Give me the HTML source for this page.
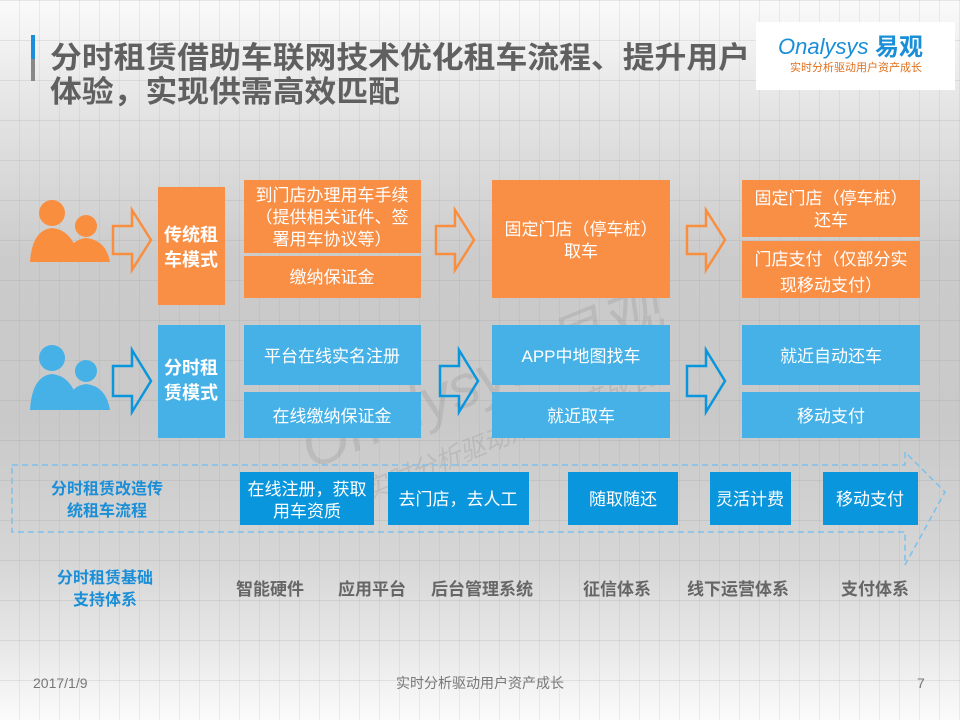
<!DOCTYPE html>
<html><head><meta charset="utf-8"><style>
body{margin:0;width:960px;height:720px;overflow:hidden;font-family:"Liberation Sans","Noto Sans CJK SC",sans-serif;}
.bg{position:absolute;left:0;top:0;width:960px;height:720px;background:linear-gradient(#fafafa 0px,#e4e4e4 110px,#cbcbcb 260px,#c9c9c9 420px,#d6d6d6 560px,#e6e6e6 640px,#fbfbfb 720px);}
.grid{position:absolute;left:0;top:0;width:960px;height:720px;background:repeating-linear-gradient(90deg,rgba(150,150,150,0) 0 19px,rgba(150,150,150,.15) 19px 20px),repeating-linear-gradient(0deg,rgba(150,150,150,0) 0 39px,rgba(150,150,150,.2) 39px 40px);}
svg{position:absolute;left:0;top:0}
text{font-family:"Liberation Sans","Noto Sans CJK SC",sans-serif}
</style></head><body>
<div class="bg"></div><div class="grid"></div>
<svg width="960" height="720" viewBox="0 0 960 720">
<rect x="31" y="35" width="4" height="24" fill="#1a8fd8"/><rect x="31" y="59" width="4" height="22" fill="#888"/>
<text x="50" y="68" font-size="30" font-weight="bold" fill="#606060" textLength="700" lengthAdjust="spacingAndGlyphs">分时租赁借助车联网技术优化租车流程、提升用户</text>
<text x="50" y="102" font-size="30" font-weight="bold" fill="#606060" textLength="350" lengthAdjust="spacingAndGlyphs">体验，实现供需高效匹配</text>
<rect x="756" y="22" width="199" height="68" fill="#fff"/>
<text x="778" y="54" font-size="22" fill="#1a8fd8" font-style="italic">Onalysys</text>
<text x="875" y="55" font-size="24" font-weight="bold" fill="#1a8fd8">易观</text>
<text x="790" y="71" font-size="11" fill="#e0701c">实时分析驱动用户资产成长</text>
<g opacity="0.1" fill="#333" transform="rotate(-22 480 380)">
<text x="290" y="400" font-size="60" font-style="italic">Onalysys 易观</text>
<text x="330" y="450" font-size="26" font-style="italic">实时分析驱动用户资产成长</text></g>
<g fill="#f98e3f"><circle cx="52" cy="213" r="13"/><path d="M30 262 Q32 230 52 228 Q74 230 80 262Z"/>
<circle cx="86" cy="226" r="11"/><path d="M66 262 Q68 240 86 238 Q106 240 110 262Z"/></g>
<g fill="#45b1e6"><circle cx="52" cy="358" r="13"/><path d="M30 410 Q32 376 52 374 Q74 376 80 410Z"/>
<circle cx="86" cy="371" r="11"/><path d="M66 410 Q68 386 86 384 Q106 386 110 410Z"/></g>
<g fill="none" stroke-width="2.5">
<path d="M113 226 H132 V210 L151 240 L132 270 V254 H113Z" stroke="#f98e3f"/>
<path d="M436 226 H455 V210 L474 240 L455 270 V254 H436Z" stroke="#f98e3f"/>
<path d="M687 226 H706 V210 L725 240 L706 270 V254 H687Z" stroke="#f98e3f"/>
<path d="M113 366 H132 V350 L151 381 L132 412 V396 H113Z" stroke="#0a96dc"/>
<path d="M440 366 H459 V350 L478 381 L459 412 V396 H440Z" stroke="#0a96dc"/>
<path d="M687 366 H706 V350 L725 381 L706 412 V396 H687Z" stroke="#0a96dc"/>
</g>
<g fill="#f98e45">
<rect x="158" y="187" width="67" height="118"/>
<rect x="244" y="180" width="177" height="73"/><rect x="244" y="256" width="177" height="42"/>
<rect x="492" y="180" width="178" height="118"/>
<rect x="742" y="180" width="178" height="57"/><rect x="742" y="241" width="178" height="57"/></g>
<g fill="#45b1e6">
<rect x="158" y="325" width="67" height="113"/>
<rect x="244" y="325" width="177" height="60"/><rect x="244" y="392" width="177" height="46"/>
<rect x="492" y="325" width="178" height="60"/><rect x="492" y="392" width="178" height="46"/>
<rect x="742" y="325" width="178" height="60"/><rect x="742" y="392" width="178" height="46"/></g>
<g fill="#fff" font-size="17" text-anchor="middle">
<text x="191" y="241" font-weight="bold" font-size="18">传统租</text><text x="191" y="266" font-weight="bold" font-size="18">车模式</text>
<text x="191" y="374" font-weight="bold" font-size="18">分时租</text><text x="191" y="399" font-weight="bold" font-size="18">赁模式</text>
<text x="332" y="201">到门店办理用车手续</text><text x="332" y="223">（提供相关证件、签</text><text x="332" y="245">署用车协议等）</text>
<text x="332" y="283">缴纳保证金</text>
<text x="581" y="235">固定门店（停车桩）</text><text x="581" y="257">取车</text>
<text x="831" y="204">固定门店（停车桩）</text><text x="831" y="226">还车</text>
<text x="831" y="265">门店支付（仅部分实</text><text x="831" y="291">现移动支付）</text>
<text x="332" y="362">平台在线实名注册</text><text x="332" y="422">在线缴纳保证金</text>
<text x="581" y="362">APP中地图找车</text><text x="581" y="422">就近取车</text>
<text x="831" y="362">就近自动还车</text><text x="831" y="422">移动支付</text>
</g>
<path d="M12 465 H905 V452 L945 492 L905 565 V532 H12Z" fill="none" stroke="#7cc0ec" stroke-width="1.5" stroke-dasharray="6 4"/>
<g fill="#0a96dc">
<rect x="240" y="472" width="134" height="53"/><rect x="388" y="472" width="141" height="53"/>
<rect x="568" y="472" width="110" height="53"/><rect x="710" y="472" width="81" height="53"/><rect x="823" y="472" width="95" height="53"/></g>
<g fill="#fff" font-size="17" text-anchor="middle">
<text x="307" y="495">在线注册，获取</text><text x="307" y="517">用车资质</text>
<text x="458" y="505">去门店，去人工</text><text x="623" y="505">随取随还</text>
<text x="750" y="505">灵活计费</text><text x="870" y="505">移动支付</text></g>
<g fill="#1a8fd8" font-size="16" font-weight="bold" text-anchor="middle">
<text x="107" y="494">分时租赁改造传</text><text x="107" y="516">统租车流程</text>
<text x="105" y="583">分时租赁基础</text><text x="105" y="605">支持体系</text></g>
<g fill="#666" font-size="17" font-weight="bold" text-anchor="middle">
<text x="270" y="595">智能硬件</text><text x="372" y="595">应用平台</text><text x="482" y="595">后台管理系统</text>
<text x="617" y="595">征信体系</text><text x="738" y="595">线下运营体系</text><text x="875" y="595">支付体系</text></g>
<g fill="#777" font-size="14">
<text x="33" y="688">2017/1/9</text><text x="480" y="688" text-anchor="middle">实时分析驱动用户资产成长</text><text x="917" y="688">7</text></g>
</svg>
</body></html>
